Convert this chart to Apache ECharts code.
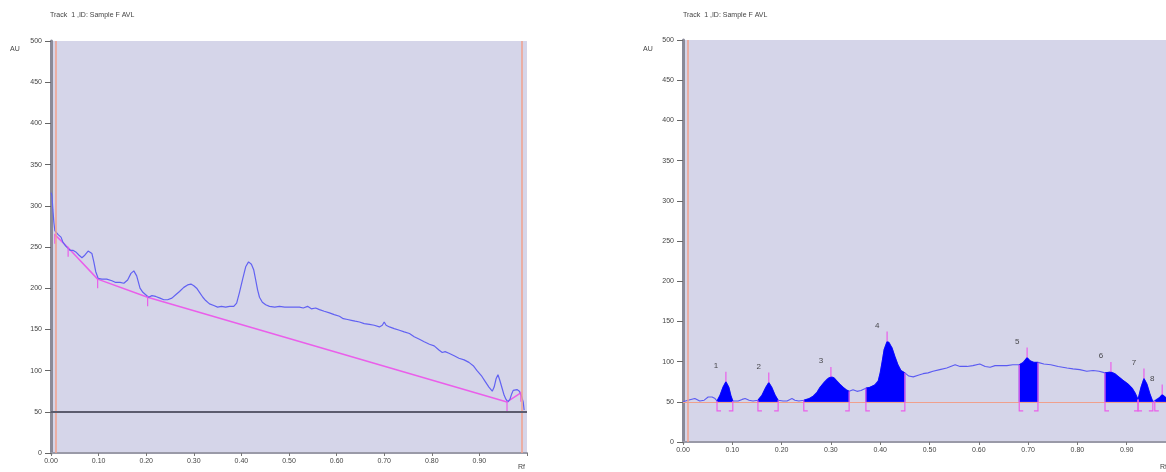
<!DOCTYPE html>
<html>
<head>
<meta charset="utf-8">
<title>Track 1 ,ID: Sample F AVL</title>
<script src="https://cdn.jsdelivr.net/npm/echarts@6/dist/echarts.min.js"></script>
<style>
  html, body { margin: 0; padding: 0; background: #ffffff; }
  #chart { width: 1166px; height: 472px; }
</style>
</head>
<body>
<div id="chart"></div>
<script>
// Raw densitogram of the track: [Rf, AU]
var rawTrace = [
  [0.000,316],[0.002,312],[0.004,295],[0.006,280],[0.008,270],[0.015,265],[0.021,262],[0.025,256],
  [0.031,251],[0.040,246],[0.046,246],[0.052,244],[0.059,240],[0.065,237],[0.071,240],[0.078,245],
  [0.082,246],[0.086,242],[0.090,232],[0.094,220],[0.099,212],[0.107,211],[0.117,211],[0.128,209],
  [0.136,207],[0.145,207],[0.153,206],[0.161,210],[0.168,218],[0.174,221],[0.180,215],[0.187,200],
  [0.193,195],[0.199,192],[0.205,189],[0.212,191],[0.220,190],[0.229,188],[0.237,186],[0.245,186],
  [0.254,188],[0.262,192],[0.270,196],[0.279,201],[0.287,204],[0.294,205],[0.300,203],[0.306,200],
  [0.312,195],[0.319,189],[0.325,185],[0.333,181],[0.342,179],[0.350,177],[0.358,178],[0.367,177],
  [0.375,178],[0.384,178],[0.390,182],[0.396,195],[0.403,212],[0.409,226],[0.415,232],[0.421,229],
  [0.426,222],[0.430,210],[0.434,198],[0.438,189],[0.444,183],[0.451,180],[0.459,178],[0.470,177],
  [0.480,178],[0.491,177],[0.501,177],[0.514,177],[0.522,177],[0.530,176],[0.539,178],[0.547,175],
  [0.556,176],[0.564,174],[0.574,172],[0.585,170],[0.595,168],[0.606,166],[0.614,163],[0.623,162],
  [0.631,161],[0.639,160],[0.648,159],[0.658,157],[0.669,156],[0.679,155],[0.690,153],[0.696,155],
  [0.700,159],[0.704,155],[0.711,153],[0.721,151],[0.732,149],[0.742,147],[0.753,145],[0.763,141],
  [0.774,138],[0.784,135],[0.795,132],[0.805,130],[0.815,125],[0.822,122],[0.828,123],[0.836,121],
  [0.847,118],[0.857,115],[0.868,113],[0.878,110],[0.887,106],[0.895,100],[0.904,94],[0.912,87],
  [0.920,80],[0.927,75],[0.931,80],[0.935,90],[0.939,95],[0.943,88],[0.948,78],[0.952,70],
  [0.956,65],[0.960,62],[0.964,65],[0.968,72],[0.971,76],[0.975,78],[0.979,77],[0.984,75],
  [0.988,70],[0.992,62],[0.994,52]
];

// Baseline drawn under the raw trace
var rawBaseline = [[0.008,265],[0.036,249],[0.098,211],[0.203,189],[0.958,62],[0.987,73]];

// Application position and front position of the track (Rf)
var trackStartRf = 0.008;
var trackEndRf = 0.987;
var rawZeroLine = 50;

// Baseline-corrected trace: [Rf, AU]
var correctedTrace = [
  [0.000,50],[0.010,52],[0.024,54],[0.034,51],[0.043,52],[0.051,56],[0.059,56],[0.065,54],
  [0.069,51],[0.075,58],[0.081,68],[0.087,75],[0.093,68],[0.097,58],[0.101,51],
  [0.112,51],[0.120,53],[0.126,54],[0.134,52],[0.142,51],
  [0.152,52],[0.160,58],[0.168,68],[0.174,74],[0.180,68],[0.187,58],[0.193,52],
  [0.203,51],[0.211,51],[0.221,54],[0.227,52],[0.235,51],
  [0.245,52],[0.256,54],[0.264,57],[0.272,62],[0.278,68],[0.286,74],[0.294,79],[0.300,81],
  [0.306,80],[0.312,76],[0.318,72],[0.325,68],[0.331,65],[0.337,63],
  [0.345,65],[0.353,63],[0.361,64],
  [0.371,67],[0.379,68],[0.389,71],[0.396,76],[0.400,86],[0.404,100],[0.408,115],[0.414,125],
  [0.418,124],[0.424,117],[0.430,106],[0.436,96],[0.442,89],[0.450,86],
  [0.458,82],[0.467,81],[0.477,83],[0.487,85],[0.497,86],[0.507,88],[0.521,90],[0.535,92],
  [0.552,96],[0.562,94],[0.576,94],[0.588,95],[0.602,97],[0.613,94],[0.623,93],[0.633,95],
  [0.643,95],[0.657,95],[0.669,96],
  [0.682,96],[0.690,99],[0.698,105],[0.704,101],[0.712,99],[0.720,99],
  [0.732,97],[0.746,96],[0.761,94],[0.779,92],[0.791,91],[0.805,90],[0.819,88],[0.832,89],[0.844,88],
  [0.856,86],[0.868,87],[0.876,85],[0.882,82],[0.892,77],[0.903,72],[0.911,67],[0.917,61],[0.923,53],
  [0.929,68],[0.935,79],[0.941,72],[0.947,60],[0.953,50],
  [0.957,51],[0.966,55],[0.972,59],[0.978,56],[0.984,52],[0.992,51],[1.000,50]
];

// Integrated peaks: number, start Rf, end Rf, apex Rf
var peakNames = ['1', '2', '3', '4', '5', '6', '7', '8'];
var peakStart = [0.069, 0.152, 0.245, 0.371, 0.682, 0.856, 0.923, 0.957];
var peakEnd   = [0.101, 0.193, 0.337, 0.450, 0.720, 0.923, 0.953, 0.992];
var peakApex  = [0.087, 0.174, 0.300, 0.414, 0.698, 0.868, 0.935, 0.972];
var correctedBaseline = 50;

var titleText = 'Track  1 ,ID: Sample F AVL';
var yTicks = { min: 0, max: 500, step: 50 };
var xTicks = { min: 0, max: 1, step: 0.1 };

function traceAt(rf) {
  for (var i = 0; i < correctedTrace.length; i++) {
    if (Math.abs(correctedTrace[i][0] - rf) < 1e-9) return correctedTrace[i][1];
  }
  return correctedBaseline;
}

var axisFont = { fontSize: 7, color: '#444', fontFamily: 'Liberation Sans' };

function makeX(gridIndex) {
  return {
    type: 'value', gridIndex: gridIndex, min: xTicks.min, max: xTicks.max, interval: xTicks.step,
    axisLine: { show: true, onZero: false, lineStyle: { color: '#9a9aa8', width: 2 } },
    axisTick: { show: true, length: 3, lineStyle: { color: '#777' } },
    splitLine: { show: false },
    axisLabel: Object.assign({ margin: 5, formatter: function (v) { return v >= 0.999 ? '' : v.toFixed(2); } }, axisFont)
  };
}
function makeY(gridIndex) {
  return {
    type: 'value', gridIndex: gridIndex, min: yTicks.min, max: yTicks.max, interval: yTicks.step,
    axisLine: { show: true, lineStyle: { color: '#8a8a98', width: 3 } },
    axisTick: { show: true, length: 6, lineStyle: { color: '#666' } },
    splitLine: { show: false },
    axisLabel: Object.assign({ margin: 9 }, axisFont)
  };
}

var pink = '#ea5fea';

var option = {
  animation: false,
  backgroundColor: '#ffffff',
  grid: [
    { left: 51, top: 41, width: 476, height: 412, show: true, backgroundColor: '#d5d5e9', borderWidth: 0, outerBoundsMode: 'none' },
    { left: 683, top: 40, width: 493, height: 402, show: true, backgroundColor: '#d5d5e9', borderWidth: 0, outerBoundsMode: 'none' }
  ],
  xAxis: [makeX(0), makeX(1)],
  yAxis: [makeY(0), makeY(1)],
  graphic: [
    { type: 'text', left: 50, top: 12, style: { text: titleText, fontSize: 7, fill: '#444', fontFamily: 'Liberation Sans' } },
    { type: 'text', left: 683, top: 12, style: { text: titleText, fontSize: 7, fill: '#444', fontFamily: 'Liberation Sans' } },
    { type: 'text', left: 10, top: 46, style: { text: 'AU', fontSize: 7, fill: '#444', fontFamily: 'Liberation Sans' } },
    { type: 'text', left: 643, top: 46, style: { text: 'AU', fontSize: 7, fill: '#444', fontFamily: 'Liberation Sans' } },
    { type: 'text', left: 518, top: 464, style: { text: 'Rf', fontSize: 7, fill: '#444', fontFamily: 'Liberation Sans' } },
    { type: 'text', left: 1160, top: 464, style: { text: 'Rf', fontSize: 7, fill: '#444', fontFamily: 'Liberation Sans' } }
  ],
  series: [
    // raw trace with track limits and zero line
    {
      type: 'line', xAxisIndex: 0, yAxisIndex: 0, data: rawTrace, symbol: 'none', z: 3,
      lineStyle: { color: '#6262f2', width: 1.2 },
      markLine: {
        silent: true, symbol: ['none', 'none'], label: { show: false },
        data: [
          { xAxis: trackStartRf, lineStyle: { color: '#f0a08c', width: 1.5, type: 'solid' } },
          { xAxis: trackEndRf, lineStyle: { color: '#f0a08c', width: 1.5, type: 'solid' } },
          { yAxis: rawZeroLine, lineStyle: { color: '#5c5c6e', width: 2, type: 'solid' } }
        ]
      }
    },
    {
      type: 'line', xAxisIndex: 0, yAxisIndex: 0, data: rawBaseline, symbol: 'none', z: 2,
      lineStyle: { color: pink, width: 1.5 }
    },
    // baseline anchor ticks
    {
      type: 'custom', xAxisIndex: 0, yAxisIndex: 0, data: rawBaseline, z: 4,
      renderItem: function (params, api) {
        var p = api.coord([api.value(0), api.value(1)]);
        return { type: 'line', shape: { x1: p[0], y1: p[1] - 1, x2: p[0], y2: p[1] + 9 }, style: { stroke: pink, fill: null, lineWidth: 1.2 } };
      }
    },
    // corrected trace with track start and baseline
    {
      type: 'line', xAxisIndex: 1, yAxisIndex: 1, data: correctedTrace, symbol: 'none', z: 3,
      lineStyle: { color: '#5a5af2', width: 1.1 },
      markLine: {
        silent: true, symbol: ['none', 'none'], label: { show: false },
        data: [
          { xAxis: 0.010, lineStyle: { color: '#f0a08c', width: 1.5, type: 'solid' } },
          { yAxis: correctedBaseline, lineStyle: { color: '#f0a08c', width: 1.2, type: 'solid' } }
        ]
      }
    },
    // filled peak areas
    {
      type: 'custom', xAxisIndex: 1, yAxisIndex: 1, z: 4,
      data: peakStart.map(function (s, i) { return [s, correctedBaseline, i]; }),
      renderItem: function (params, api) {
        var i = api.value(2);
        var s = peakStart[i], e = peakEnd[i];
        var pts = correctedTrace.filter(function (p) { return p[0] >= s - 1e-9 && p[0] <= e + 1e-9; })
          .map(function (p) { return api.coord(p); });
        pts.push(api.coord([e, correctedBaseline]));
        pts.push(api.coord([s, correctedBaseline]));
        return { type: 'polygon', shape: { points: pts }, style: { fill: '#0000ff', stroke: '#0000ff', lineWidth: 0.8 } };
      }
    },
    // integration marks: boundary brackets and apex ticks
    {
      type: 'custom', xAxisIndex: 1, yAxisIndex: 1, z: 5,
      data: peakStart.map(function (s, i) { return [s, correctedBaseline, i]; }),
      renderItem: function (params, api) {
        var i = api.value(2);
        var s = peakStart[i], e = peakEnd[i], a = peakApex[i];
        var st = { stroke: pink, fill: 'none', lineWidth: 1.2 };
        var ps = api.coord([s, traceAt(s)]), bs = api.coord([s, correctedBaseline]);
        var pe = api.coord([e, traceAt(e)]), be = api.coord([e, correctedBaseline]);
        var pa = api.coord([a, traceAt(a)]);
        return {
          type: 'group',
          children: [
            { type: 'polyline', shape: { points: [[ps[0], ps[1]], [bs[0], bs[1] + 9], [bs[0] + 4, bs[1] + 9]] }, style: st },
            { type: 'polyline', shape: { points: [[pe[0], pe[1]], [be[0], be[1] + 9], [be[0] - 4, be[1] + 9]] }, style: st },
            { type: 'line', shape: { x1: pa[0], y1: pa[1], x2: pa[0], y2: pa[1] - 10 }, style: st }
          ]
        };
      }
    },
    // peak numbers
    {
      type: 'scatter', xAxisIndex: 1, yAxisIndex: 1, symbolSize: 0, z: 6, silent: true,
      data: peakApex.map(function (a, i) { return { name: peakNames[i], value: [a, traceAt(a)] }; }),
      label: {
        show: true, position: 'top', distance: 5, offset: [-10, -7],
        formatter: '{b}', fontSize: 8, color: '#222', fontFamily: 'Liberation Sans'
      }
    }
  ]
};

var chart = echarts.init(document.getElementById('chart'), null, { renderer: 'canvas' });
chart.setOption(option);
</script>
</body>
</html>
